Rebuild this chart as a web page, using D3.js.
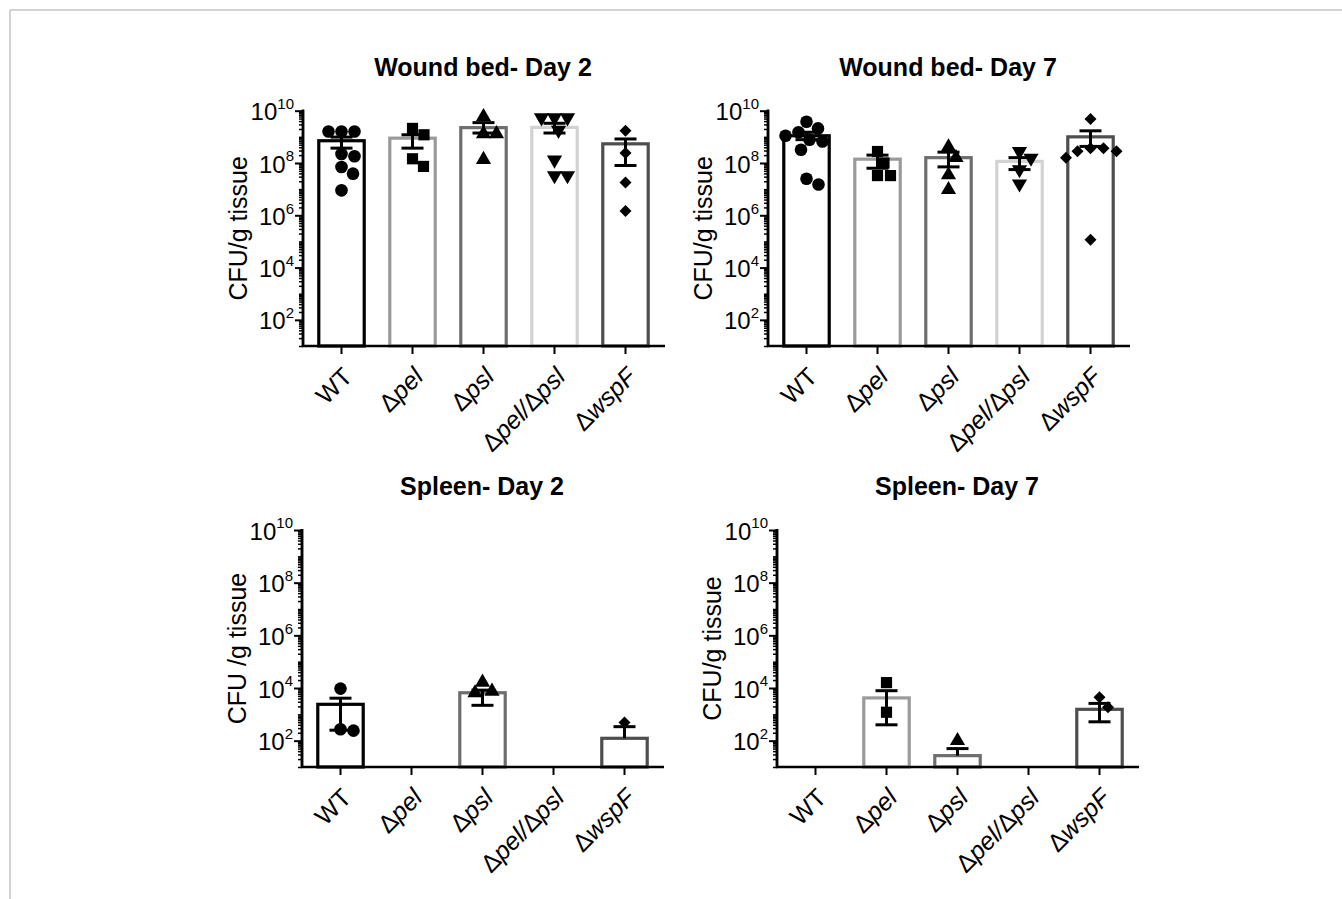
<!DOCTYPE html>
<html>
<head>
<meta charset="utf-8">
<script src="https://cdn.jsdelivr.net/npm/d3@7"></script>
<style>
  body { margin: 0; background: #fff; }
  svg { display: block; font-family: "Liberation Sans", Arial, sans-serif; }
</style>
</head>
<body>
<svg id="fig" width="1342" height="899"></svg>
<script>
// strains on the x axis
var strains = ["WT", "Δpel", "Δpsl", "Δpel/Δpsl", "ΔwspF"];
// label pieces: [text, italic?]
var strainParts = [
  [["WT", false]],
  [["Δ", false], ["pel", true]],
  [["Δ", false], ["psl", true]],
  [["Δ", false], ["pel/", true], ["Δ", false], ["psl", true]],
  [["Δ", false], ["wspF", true]]
];
var majorExp = [2, 4, 6, 8, 10];

// Wound bed - Day 2
var woundD2Mean = [7.1e8, 8.9e8, 2.25e9, 2.3e9, 5.4e8];
var woundD2Lo   = [3.7e8, 3.7e8, 1.4e9, 1.4e9, 8e7];
var woundD2Hi   = [9.8e8, 1.2e9, 3.5e9, 3.3e9, 8.3e8];
var woundD2Pts  = [
  [1.6e9, 1.6e9, 1.6e9, 1.8e8, 2.2e8, 7e7, 3.9e7, 9e6],
  [2.1e9, 1.2e9, 1.45e8, 7.4e7],
  [5.9e9, 1.3e9, 1.3e9, 1.35e8],
  [5.4e9, 5.4e9, 5.4e9, 1.8e9, 1.3e8, 3.3e7, 3.3e7],
  [1.7e9, 2.4e8, 1.8e7, 1.45e6]
];

// Wound bed - Day 7
var woundD7Mean = [1.1e9, 1.4e8, 1.6e8, 1.15e8, 1.0e9];
var woundD7Lo   = [7.8e8, 6.3e7, 7.1e7, 5.6e7, 4.3e8];
var woundD7Hi   = [1.5e9, 2e8, 2.6e8, 1.6e8, 1.7e9];
var woundD7Pts  = [
  [3.8e9, 1.5e9, 2.1e9, 1.1e9, 6.6e8, 7.8e8, 3.2e8, 1.5e7, 2.5e7],
  [2.75e8, 1e8, 3.3e7, 3.3e7],
  [4.1e8, 1.6e8, 3.5e7, 9.5e6],
  [2.75e8, 1.55e8, 5.6e7, 1.6e7],
  [4.8e9, 3.7e8, 2.8e8, 2.8e8, 3.7e8, 1.6e8, 1.15e5]
];

// Spleen - Day 2
var spleenD2Mean = [2.4e3, null, 6.6e3, null, 123];
var spleenD2Lo   = [250, null, 2.2e3, null, 123];
var spleenD2Hi   = [4.1e3, null, 8.3e3, null, 340];
var spleenD2Pts  = [
  [9.5e3, 240, 270],
  [],
  [1.65e4, 7.5e3, 6.5e3],
  [],
  [490]
];

// Spleen - Day 7
var spleenD7Mean = [null, 4.2e3, 27, null, 1.55e3];
var spleenD7Lo   = [null, 400, 27, null, 520];
var spleenD7Hi   = [null, 7.9e3, 50, null, 2.6e3];
var spleenD7Pts  = [
  [],
  [1.6e4, 1.2e3],
  [100],
  [],
  [1.85e3, 4.5e3]
];

var barColors = ["#000000", "#9a9a9a", "#6e6e6e", "#d2d2d2", "#4e4e4e"];
var shapes = [d3.symbolCircle, d3.symbolSquare, d3.symbolTriangle, d3.symbolTriangle, d3.symbolSquare];
var shapeSize = [125, 125, 100, 100, 72];
var shapeRot = [0, 0, 0, 180, 45];

var panels = [
  { title: "Wound bed- Day 2", ylab: "CFU/g tissue", ax: 303, top: 110.7, bottom: 346,
    mean: woundD2Mean, lo: woundD2Lo, hi: woundD2Hi, pts: woundD2Pts },
  { title: "Wound bed- Day 7", ylab: "CFU/g tissue", ax: 768, top: 110.7, bottom: 346,
    mean: woundD7Mean, lo: woundD7Lo, hi: woundD7Hi, pts: woundD7Pts },
  { title: "Spleen- Day 2", ylab: "CFU /g tissue", ax: 302, top: 530, bottom: 767,
    mean: spleenD2Mean, lo: spleenD2Lo, hi: spleenD2Hi, pts: spleenD2Pts },
  { title: "Spleen- Day 7", ylab: "CFU/g tissue", ax: 777, top: 530, bottom: 767,
    mean: spleenD7Mean, lo: spleenD7Lo, hi: spleenD7Hi, pts: spleenD7Pts }
];

var svg = d3.select("#fig");

// partial frame of the original figure
svg.append("line").attr("x1", 10).attr("y1", 10).attr("x2", 1342).attr("y2", 10)
  .attr("stroke", "#c4c4c4").attr("stroke-width", 1.5);
svg.append("line").attr("x1", 10).attr("y1", 10).attr("x2", 10).attr("y2", 899)
  .attr("stroke", "#c4c4c4").attr("stroke-width", 1.5);

// simple beeswarm: horizontal offsets so markers don't overlap
function swarm(values, y, d) {
  var placed = [];
  var order = values.map(function(v, i) { return i; })
    .sort(function(a, b) { return values[b] - values[a]; });
  order.forEach(function(i) {
    var py = y(values[i]), off = 0;
    for (var k = 0; k < 400; k++) {
      var cand = k === 0 ? 0 : (k % 2 ? 1 : -1) * Math.ceil(k / 2) * 0.5;
      var ok = placed.every(function(p) { return Math.hypot(p.x - cand, p.y - py) >= d; });
      if (ok) { off = cand; break; }
    }
    placed.push({ x: off, y: py, g: i });
  });
  return placed;
}

var minorTicks = [];
for (var e = 1; e < 10; e++) {
  for (var k = 1; k < 10; k++) {
    if (!(k === 1 && e % 2 === 0)) minorTicks.push(k * Math.pow(10, e));
  }
}

panels.forEach(function(p) {
  var g = svg.append("g");
  var x = d3.scaleBand().domain(strains)
    .range([p.ax + 3, p.ax + 358]).paddingInner(0.36).paddingOuter(0.18);
  var y = d3.scaleLog().domain([10, 1e10]).range([p.bottom, p.top]);
  var bw = x.bandwidth();

  // title
  g.append("text")
    .attr("x", p.ax + 180).attr("y", p.top - 35)
    .attr("text-anchor", "middle")
    .attr("font-size", 25).attr("font-weight", "bold")
    .text(p.title);

  // y label
  g.append("text")
    .attr("transform", "translate(" + (p.ax - 56) + "," + ((p.top + p.bottom) / 2) + ") rotate(-90)")
    .attr("text-anchor", "middle")
    .attr("font-size", 25)
    .text(p.ylab);

  // bars
  strains.forEach(function(s, i) {
    if (p.mean[i] == null) return;
    g.append("rect")
      .attr("x", x(s)).attr("y", y(p.mean[i]))
      .attr("width", bw).attr("height", p.bottom - y(p.mean[i]))
      .attr("fill", "#fff").attr("stroke", barColors[i]).attr("stroke-width", 3.2);
  });

  // points
  strains.forEach(function(s, i) {
    var cx = x(s) + bw / 2;
    var sym = d3.symbol().type(shapes[i]).size(shapeSize[i]);
    swarm(p.pts[i], y, 13).forEach(function(pt) {
      g.append("path")
        .attr("d", sym())
        .attr("transform", "translate(" + (cx + pt.x) + "," + pt.y + ") rotate(" + shapeRot[i] + ")")
        .attr("fill", "#000");
    });
  });

  // error bars
  strains.forEach(function(s, i) {
    if (p.mean[i] == null) return;
    var cx = x(s) + bw / 2;
    var eb = g.append("g").attr("stroke", "#000").attr("stroke-width", 3);
    eb.append("line").attr("x1", cx).attr("x2", cx)
      .attr("y1", y(p.lo[i])).attr("y2", y(p.hi[i]));
    eb.append("line").attr("x1", cx - 11).attr("x2", cx + 11)
      .attr("y1", y(p.hi[i])).attr("y2", y(p.hi[i]));
    if (p.lo[i] < p.mean[i]) {
      eb.append("line").attr("x1", cx - 11).attr("x2", cx + 11)
        .attr("y1", y(p.lo[i])).attr("y2", y(p.lo[i]));
    }
  });

  // y axis: minor then major ticks
  var yMinor = g.append("g").attr("transform", "translate(" + p.ax + ",0)")
    .call(d3.axisLeft(y).tickValues(minorTicks).tickSize(4).tickFormat(""));
  var yMajor = g.append("g").attr("transform", "translate(" + p.ax + ",0)")
    .call(d3.axisLeft(y).tickValues(majorExp.map(function(e) { return Math.pow(10, e); }))
      .tickSize(8).tickFormat(""));
  [yMinor, yMajor].forEach(function(a) {
    a.select(".domain").attr("stroke-width", 2.5).attr("d", "M0," + (p.bottom + 1) + "V" + (p.top - 1));
    a.selectAll(".tick line").attr("stroke-width", 1.5);
  });
  yMajor.selectAll(".tick line").attr("stroke-width", 2);
  yMajor.selectAll(".tick").each(function(v) {
    var t = d3.select(this).append("text")
      .attr("x", -9).attr("dy", "0.38em")
      .attr("text-anchor", "end").attr("fill", "#000")
      .attr("font-size", 24);
    t.append("tspan").text("10");
    t.append("tspan").attr("font-size", 15).attr("dy", "-0.75em")
      .text(Math.round(Math.log10(v)));
  });

  // x axis
  var xa = g.append("g").attr("transform", "translate(0," + p.bottom + ")")
    .call(d3.axisBottom(x).tickSize(8).tickSizeOuter(0).tickFormat(""));
  xa.select(".domain").attr("stroke-width", 2.5).attr("d", "M" + (p.ax - 1) + ",0H" + (p.ax + 362));
  xa.selectAll(".tick line").attr("stroke-width", 2);
  xa.selectAll(".tick").each(function(s, i) {
    var t = d3.select(this).append("text")
      .attr("transform", "translate(6,26) rotate(-45)")
      .attr("dy", "0.35em")
      .attr("text-anchor", "end").attr("fill", "#000")
      .attr("font-size", 25);
    strainParts[i].forEach(function(part) {
      t.append("tspan").attr("font-style", part[1] ? "italic" : "normal").text(part[0]);
    });
  });
  g.selectAll(".domain, .tick line").attr("stroke", "#000");
  g.selectAll(".tick text").attr("font-family", null);
});
</script>
</body>
</html>
